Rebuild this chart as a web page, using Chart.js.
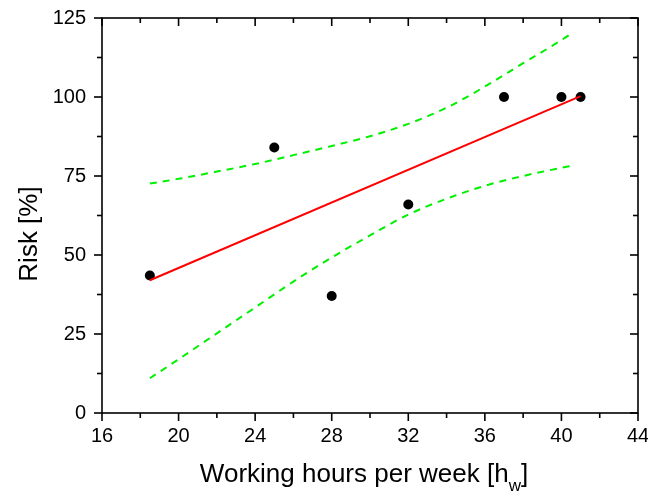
<!DOCTYPE html>
<html>
<head>
<meta charset="utf-8">
<script src="https://cdn.jsdelivr.net/npm/chart.js@4.4.1/dist/chart.umd.min.js"></script>
<style>
  html, body { margin:0; padding:0; background:#fff; }
  #wrap { width:648px; height:495px; position:relative; }
</style>
</head>
<body>
<div id="wrap"><canvas id="riskChart"></canvas></div>
<script>
// measured points
var hours = [18.5, 25, 28, 32, 37, 40, 41];
var risk  = [43.5, 84, 37, 66, 100, 100, 100];

// linear fit (red)
var fitX = [18.5, 41];
var fitY = [42, 100.3];

// confidence band (green dashed)
var bandX     = [18.5, 20, 22, 24, 26, 28, 30, 32, 34, 36, 38, 40, 40.5];
var bandUpper = [72.6, 74.1, 76.4, 78.8, 81.6, 84.5, 87.6, 91.5, 96.6, 103.3, 110.7, 118, 120];
var bandLower = [11, 17, 25.2, 33.4, 41.6, 49.2, 56.2, 62.8, 67.8, 71.9, 75, 77.6, 78.2];

// axes
var xTicks = [16, 20, 24, 28, 32, 36, 40, 44];
var xMinor = [18, 22, 26, 30, 34, 38, 42];
var yTicks = [0, 25, 50, 75, 100, 125];
var yMinor = [12.5, 37.5, 62.5, 87.5, 112.5];

var FONT = "'Liberation Sans', Arial, sans-serif";

function pts(xs, ys){ return xs.map(function(x, i){ return { x: x, y: ys[i] }; }); }

/* ── frame, inner/minor ticks and axis titles ── */
var framePlugin = {
  id: 'frame',
  afterDraw: function(chart){
    var ctx = chart.ctx, a = chart.chartArea;
    var xs = chart.scales.x, ys = chart.scales.y;
    ctx.save();
    ctx.strokeStyle = '#000';
    ctx.lineWidth = 1.6;
    ctx.strokeRect(a.left, a.top, a.right - a.left, a.bottom - a.top);

    function tick(x1, y1, x2, y2){ ctx.beginPath(); ctx.moveTo(x1, y1); ctx.lineTo(x2, y2); ctx.stroke(); }
    var MAJ = 8, MIN = 5;
    xTicks.forEach(function(v){
      var p = xs.getPixelForValue(v);
      tick(p, a.bottom, p, a.bottom + MAJ);
      tick(p, a.top, p, a.top + MAJ);
    });
    xMinor.forEach(function(v){
      var p = xs.getPixelForValue(v);
      tick(p, a.bottom, p, a.bottom + MIN);
      tick(p, a.top, p, a.top + MIN);
    });
    yTicks.forEach(function(v){
      var p = ys.getPixelForValue(v);
      tick(a.left - MAJ, p, a.left, p);
      tick(a.right - MAJ, p, a.right, p);
    });
    yMinor.forEach(function(v){
      var p = ys.getPixelForValue(v);
      tick(a.left - MIN, p, a.left, p);
      tick(a.right - MIN, p, a.right, p);
    });

    // y title
    ctx.fillStyle = '#000';
    ctx.font = '26px ' + FONT;
    ctx.save();
    ctx.translate(37, 234);
    ctx.rotate(-Math.PI / 2);
    ctx.textAlign = 'center';
    ctx.textBaseline = 'alphabetic';
    ctx.fillText('Risk [%]', 0, 0);
    ctx.restore();

    // x title with subscript w
    var main = 'Working hours per week [h', sub = 'w', close = ']';
    ctx.font = '26px ' + FONT;
    var w1 = ctx.measureText(main).width, w3 = ctx.measureText(close).width;
    ctx.font = '17px ' + FONT;
    var w2 = ctx.measureText(sub).width;
    var x0 = 364 - (w1 + w2 + w3) / 2, base = 482;
    ctx.textAlign = 'left';
    ctx.textBaseline = 'alphabetic';
    ctx.font = '26px ' + FONT;
    ctx.fillText(main, x0, base);
    ctx.font = '17px ' + FONT;
    ctx.fillText(sub, x0 + w1, base + 9);
    ctx.font = '26px ' + FONT;
    ctx.fillText(close, x0 + w1 + w2, base);
    ctx.restore();
  }
};

var ctx = document.getElementById('riskChart').getContext('2d');
new Chart(ctx, {
  type: 'scatter',
  data: {
    datasets: [
      { label: 'Fit', data: pts(fitX, fitY), showLine: true, borderColor: '#ff0000', borderWidth: 2,
        pointRadius: 0, fill: false },
      { label: 'Upper', data: pts(bandX, bandUpper), showLine: true, borderColor: '#00f000', borderWidth: 2,
        borderDash: [7, 6], pointRadius: 0, cubicInterpolationMode: 'monotone', fill: false },
      { label: 'Lower', data: pts(bandX, bandLower), showLine: true, borderColor: '#00f000', borderWidth: 2,
        borderDash: [7, 6], pointRadius: 0, cubicInterpolationMode: 'monotone', fill: false },
      { label: 'Risk', data: pts(hours, risk), showLine: false, pointRadius: 5, pointHoverRadius: 5,
        backgroundColor: '#000', borderColor: '#000', borderWidth: 0 }
    ]
  },
  options: {
    responsive: true,
    maintainAspectRatio: false,
    animation: false,
    events: [],
    layout: { padding: { top: 18, right: 10, left: 0, bottom: 0 } },
    plugins: { legend: { display: false }, tooltip: { enabled: false } },
    scales: {
      x: {
        type: 'linear', min: 16, max: 44,
        afterBuildTicks: function(s){ s.ticks = xTicks.map(function(v){ return { value: v }; }); },
        afterFit: function(s){ s.height = 82; s.paddingRight = 0; s.paddingLeft = 0; },
        grid: { display: false, drawTicks: true, tickLength: 8 },
        border: { display: false },
        ticks: { color: '#000', font: { family: FONT, size: 20 }, padding: 3, maxRotation: 0, autoSkip: false }
      },
      y: {
        type: 'linear', min: 0, max: 125,
        afterBuildTicks: function(s){ s.ticks = yTicks.map(function(v){ return { value: v }; }); },
        afterFit: function(s){ s.width = 102; s.paddingTop = 0; s.paddingBottom = 0; },
        grid: { display: false, drawTicks: true, tickLength: 8 },
        border: { display: false },
        ticks: { color: '#000', font: { family: FONT, size: 20 }, padding: 8 }
      }
    }
  },
  plugins: [framePlugin]
});
</script>
</body>
</html>
